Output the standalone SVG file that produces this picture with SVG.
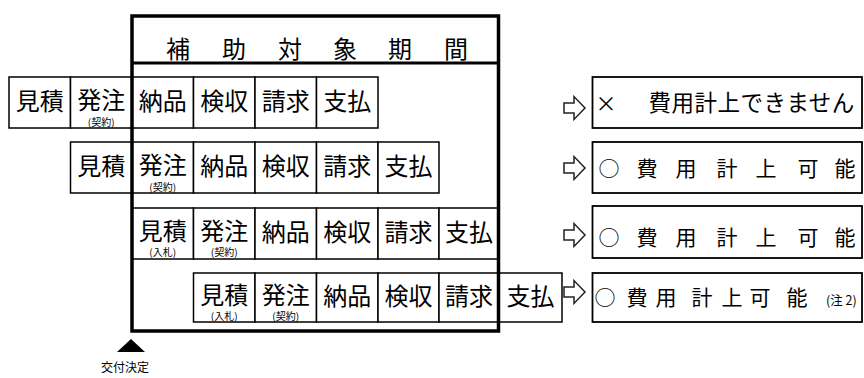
<svg xmlns="http://www.w3.org/2000/svg" width="864" height="378" viewBox="0 0 864 378">
<style>
text{font-family:"Noto Sans CJK JP","Noto Sans CJK SC",sans-serif;fill:#000}
.cell{fill:#fff;stroke:#000;stroke-width:1.5}
.t{font-size:24px;text-anchor:middle}
.s{font-size:10px;text-anchor:middle}
.res{fill:#fff;stroke:#000;stroke-width:1.8}
.r{font-size:21px;text-anchor:middle}
.arr{fill:#fff;stroke:#222;stroke-width:1.5;stroke-linejoin:miter}
</style>
<rect width="864" height="378" fill="#fff"/>

<!-- Row 1 -->
<g id="row1">
<g id="r1-mitsumori"><rect class="cell" x="9" y="77" width="61.5" height="51"/><text class="t" x="39.75" y="109.5">見積</text></g>
<g id="r1-hacchu"><rect class="cell" x="70.5" y="77" width="61.5" height="51"/><text class="t" x="101.25" y="108.5">発注</text><text class="s" x="101.25" y="125.5">(契約)</text></g>
<g id="r1-nohin"><rect class="cell" x="132" y="77" width="61.5" height="51"/><text class="t" x="162.75" y="109.5">納品</text></g>
<g id="r1-kenshu"><rect class="cell" x="193.5" y="77" width="61.5" height="51"/><text class="t" x="224.25" y="109.5">検収</text></g>
<g id="r1-seikyu"><rect class="cell" x="255" y="77" width="61.5" height="51"/><text class="t" x="285.75" y="109.5">請求</text></g>
<g id="r1-shiharai"><rect class="cell" x="316.5" y="77" width="61.5" height="51"/><text class="t" x="347.25" y="109.5">支払</text></g>
</g>

<!-- Row 2 -->
<g id="row2">
<g id="r2-mitsumori"><rect class="cell" x="70.5" y="142" width="61.5" height="51"/><text class="t" x="101.25" y="174.5">見積</text></g>
<g id="r2-hacchu"><rect class="cell" x="132" y="142" width="61.5" height="51"/><text class="t" x="162.75" y="173.5">発注</text><text class="s" x="162.75" y="190.5">(契約)</text></g>
<g id="r2-nohin"><rect class="cell" x="193.5" y="142" width="61.5" height="51"/><text class="t" x="224.25" y="174.5">納品</text></g>
<g id="r2-kenshu"><rect class="cell" x="255" y="142" width="61.5" height="51"/><text class="t" x="285.75" y="174.5">検収</text></g>
<g id="r2-seikyu"><rect class="cell" x="316.5" y="142" width="61.5" height="51"/><text class="t" x="347.25" y="174.5">請求</text></g>
<g id="r2-shiharai"><rect class="cell" x="378" y="142" width="61" height="51"/><text class="t" x="408.5" y="174.5">支払</text></g>
</g>

<!-- Row 3 -->
<g id="row3">
<g id="r3-mitsumori"><rect class="cell" x="132" y="208" width="61.5" height="51"/><text class="t" x="162.75" y="239.5">見積</text><text class="s" x="162.75" y="255.5">(入札)</text></g>
<g id="r3-hacchu"><rect class="cell" x="193.5" y="208" width="61.5" height="51"/><text class="t" x="224.25" y="239.5">発注</text><text class="s" x="224.25" y="255.5">(契約)</text></g>
<g id="r3-nohin"><rect class="cell" x="255" y="208" width="61.5" height="51"/><text class="t" x="285.75" y="240.5">納品</text></g>
<g id="r3-kenshu"><rect class="cell" x="316.5" y="208" width="61.5" height="51"/><text class="t" x="347.25" y="240.5">検収</text></g>
<g id="r3-seikyu"><rect class="cell" x="378" y="208" width="61" height="51"/><text class="t" x="408.5" y="240.5">請求</text></g>
<g id="r3-shiharai"><rect class="cell" x="439" y="208" width="60" height="51"/><text class="t" x="469" y="240.5">支払</text></g>
</g>

<!-- Row 4 -->
<g id="row4">
<g id="r4-mitsumori"><rect class="cell" x="193.5" y="273" width="61.5" height="49"/><text class="t" x="224.25" y="303.5">見積</text><text class="s" x="224.25" y="319.5">(入札)</text></g>
<g id="r4-hacchu"><rect class="cell" x="255" y="273" width="61.5" height="49"/><text class="t" x="285.75" y="303.5">発注</text><text class="s" x="285.75" y="319.5">(契約)</text></g>
<g id="r4-nohin"><rect class="cell" x="316.5" y="273" width="61.5" height="49"/><text class="t" x="347.25" y="304.5">納品</text></g>
<g id="r4-kenshu"><rect class="cell" x="378" y="273" width="61" height="49"/><text class="t" x="408.5" y="304.5">検収</text></g>
<g id="r4-seikyu"><rect class="cell" x="439" y="273" width="60" height="49"/><text class="t" x="469" y="304.5">請求</text></g>
<g id="r4-shiharai"><rect class="cell" x="499" y="273" width="63" height="49"/><text class="t" x="530.5" y="304.5">支払</text></g>
</g>

<!-- Subsidy period frame -->
<g id="period-frame">
<rect x="132" y="16" width="366.5" height="315" fill="none" stroke="#000" stroke-width="3.5"/>
<line x1="132" y1="63" x2="498.5" y2="63" stroke="#000" stroke-width="3"/>
<text class="t" x="178 206 234 262 290 317.5 345 372.5 400 428 456" y="57.5">補 助 対 象 期 間</text>
</g>

<!-- Result boxes -->
<g id="result1"><rect class="res" x="592.5" y="77" width="269.5" height="51"/>
<text y="111"><tspan class="r" x="606">×</tspan><tspan x="643" font-size="22.5px" letter-spacing="0.5"> 費用計上できません</tspan></text></g>
<g id="result2"><rect class="res" x="592.5" y="142" width="269.5" height="51"/>
<text class="r" x="609 628 647 666.5 686 706.5 727 746.5 766 787 808 826.5 845" y="176">○ 費 用 計 上 可 能</text></g>
<g id="result3"><rect class="res" x="592.5" y="206" width="269.5" height="52"/>
<text class="r" x="609 628 647 666.5 686 706.5 727 746.5 766 787 808 826.5 845" y="245">○ 費 用 計 上 可 能</text></g>
<g id="result4"><rect class="res" x="592.5" y="273" width="269.5" height="49"/>
<text class="r" y="305"><tspan x="605 621 637 651.5 666 684 702 717 732 746 760 778.5 797">○ 費 用 計 上 可 能</tspan><tspan x="840" font-size="12.5px"> (注 2)</tspan></text></g>

<!-- Connectors (block arrows) -->
<g id="connectors">
<path class="arr" d="M564,103 H574 V96.5 L585,108 L574,119.5 V113 H564 Z"/>
<path class="arr" d="M564,163 H574 V156.5 L585,168 L574,179.5 V173 H564 Z"/>
<path class="arr" d="M564,230 H574 V223.5 L585,235 L574,246.5 V240 H564 Z"/>
<path class="arr" d="M564,287 H574 V280.5 L585,292 L574,303.5 V297 H564 Z"/>
</g>

<!-- Grant decision marker -->
<g id="grant-decision">
<polygon points="131,339 117,352 145,352" fill="#000"/>
<text x="125" y="371.5" font-size="12px" text-anchor="middle">交付決定</text>
</g>
</svg>
